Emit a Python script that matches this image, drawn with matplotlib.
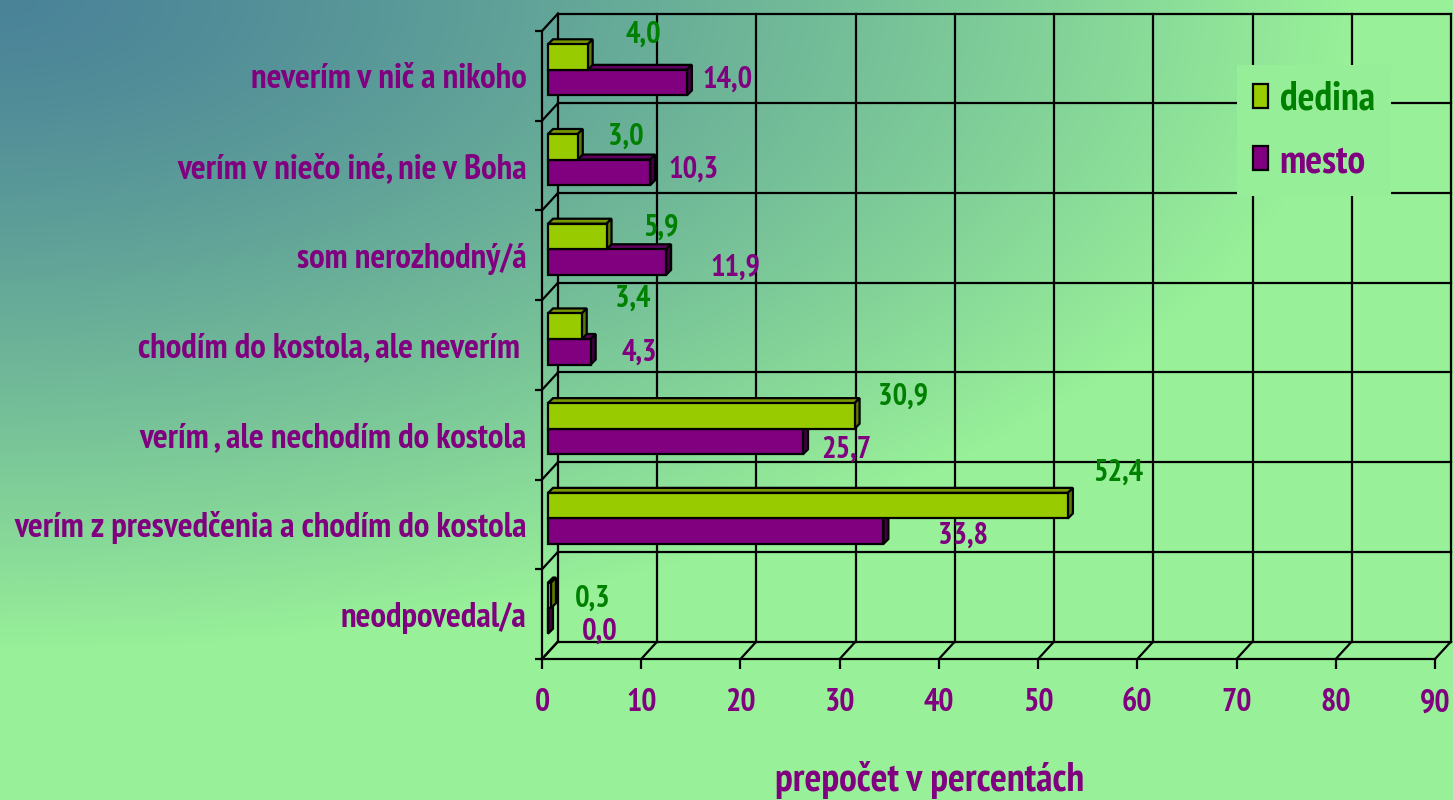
import numpy as np
import matplotlib
matplotlib.use("Agg")
import matplotlib.pyplot as plt
from matplotlib.patches import Polygon, Patch
from matplotlib import font_manager

# ---------------- data ----------------
categories = ["neodpovedal/a",
              "verím z presvedčenia a chodím do kostola",
              "verím , ale nechodím do kostola",
              "chodím do kostola, ale neverím ",
              "som nerozhodný/á",
              "verím v niečo iné, nie v Boha",
              "neverím v nič a nikoho"]
dedina = [0.3, 52.4, 30.9, 3.4, 5.9, 3.0, 4.0]
mesto = [0.0, 33.8, 25.7, 4.3, 11.9, 10.3, 14.0]
series_names = ["dedina", "mesto"]
x_ticks = [0, 10, 20, 30, 40, 50, 60, 70, 80, 90]
x_title = "prepočet v percentách"

# label offsets in pixels (dx from bar end to label left, dy downward)
ded_lab_off = [(24, 3), (25, -33), (23, -19), (33, -28), (37, -9), (30, -10), (38, -22)]
mes_lab_off = [(34, 11), (55, 4), (18, 8), (31, 1), (44, 6), (18, -3), (16, -3)]

# ---------------- styles ----------------
W, H = 1453, 800
ents = font_manager.fontManager.ttflist


def wnum(w):
    if isinstance(w, str):
        return font_manager.weight_dict.get(w, 400)
    return int(w)


FONT_NAME, STRETCH = "DejaVu Sans", "condensed"
for cand in ["Liberation Sans Narrow", "Arial Narrow", "Archivo Narrow", "PT Sans Narrow",
             "Pragati Narrow", "Roboto Condensed", "Fira Sans Condensed", "Open Sans Condensed",
             "IBM Plex Sans Condensed", "Asap Condensed", "Encode Sans Condensed",
             "Barlow Semi Condensed", "Barlow Condensed"]:
    found = [f for f in ents if f.name == cand and wnum(f.weight) >= 600]
    if found:
        FONT_NAME = cand
        STRETCH = found[0].stretch
        break
FONT = [FONT_NAME, "DejaVu Sans"]
plt.rcParams["font.family"] = FONT

PURPLE = "#800080"
GREEN = "#008000"
DED_FACE, DED_TOP, DED_SIDE = "#99CC00", "#7A9900", "#5F7800"
MES_FACE, MES_TOP, MES_SIDE = "#800080", "#600060", "#420042"
LW = 1.6

fig = plt.figure(figsize=(W / 100, H / 100), dpi=100)

# background gradient
c0 = np.array([74, 131, 152]) / 255.0
c1 = np.array([152, 240, 152]) / 255.0


def grad_t(xp, yp):
    r = np.clip(np.sqrt((xp / 1350.0) ** 2 + (yp / 650.0) ** 2), 0, 1)
    return r ** 1.3


bg = fig.add_axes([0, 0, 1, 1], zorder=-10)
yy, xx = np.mgrid[0:H, 0:W]
t = grad_t(xx, yy)
img = c0[None, None, :] * (1 - t[..., None]) + c1[None, None, :] * t[..., None]
bg.imshow(img, aspect="auto", interpolation="bilinear")
bg.axis("off")

# main axes = front plane
fx0, fx1, fy_top, fy_bot = 542, 1435, 31, 659
ax = fig.add_axes([fx0 / W, (H - fy_bot) / H, (fx1 - fx0) / W, (fy_bot - fy_top) / H])
ax.patch.set_visible(False)
ax.set_xlim(0, 90)
ax.set_ylim(-0.5, len(categories) - 0.5)
px_x = 90.0 / (fx1 - fx0)
px_y = len(categories) / float(fy_bot - fy_top)

DX, DY = 16 * px_x, 17.5 * px_y        # wall depth
BX, BY = 6 * px_x, 6 * px_y            # bar front plane offset
BDX, BDY = 5 * px_x, 5 * px_y          # bar depth
h = 0.285                              # bar thickness

ymin, ymax = -0.5, len(categories) - 0.5
kw = dict(color="black", lw=LW, clip_on=False, zorder=1, solid_capstyle="projecting")
for k in range(len(categories) + 1):
    yb = ymin + k
    ax.plot([DX, 90 + DX], [yb + DY, yb + DY], **kw)
    ax.plot([0, DX], [yb, yb + DY], **kw)
for xv in x_ticks:
    ax.plot([xv + DX, xv + DX], [ymin + DY, ymax + DY], **kw)
    ax.plot([xv, xv + DX], [ymin, ymin + DY], **kw)

for s in ["top", "right"]:
    ax.spines[s].set_visible(False)
for s in ["left", "bottom"]:
    ax.spines[s].set_linewidth(LW)
ax.set_xticks(x_ticks)
ax.set_xticklabels([str(v) for v in x_ticks])
ax.set_yticks(range(len(categories)))
ax.set_yticklabels(categories)
ax.set_yticks(np.arange(ymin, ymax + 0.01, 1.0), minor=True)
ax.tick_params(axis="x", direction="out", length=7.2, width=LW, pad=14,
               labelsize=23, labelcolor=PURPLE)
ax.tick_params(axis="y", which="major", length=0, pad=11, labelsize=25, labelcolor=PURPLE)
ax.tick_params(axis="y", which="minor", direction="out", length=5, width=LW)
for lab in ax.get_xticklabels() + ax.get_yticklabels():
    lab.set_fontweight("bold")
    lab.set_fontstretch(STRETCH)


def draw_bar(y0, val, face, top, side, z):
    yb, yt = y0 + BY, y0 + h + BY
    L = BX
    ax.barh(y0 + BY + h / 2, val, height=h, left=L, color=face, edgecolor="black",
            linewidth=LW, zorder=z + 0.2, clip_on=False)
    ax.add_patch(Polygon([(L, yt), (L + val, yt), (L + val + BDX, yt + BDY), (L + BDX, yt + BDY)],
                         closed=True, fc=top, ec="black", lw=LW, zorder=z, clip_on=False))
    ax.add_patch(Polygon([(L + val, yb), (L + val + BDX, yb + BDY), (L + val + BDX, yt + BDY), (L + val, yt)],
                         closed=True, fc=side, ec="black", lw=LW, zorder=z + 0.1, clip_on=False))


def fmt(v):
    return ("%.1f" % v).replace(".", ",")


for i in range(len(categories)):
    draw_bar(i - h, mesto[i], MES_FACE, MES_TOP, MES_SIDE, 3)
    draw_bar(i, dedina[i], DED_FACE, DED_TOP, DED_SIDE, 4)
    dx, dy = ded_lab_off[i]
    ax.text(BX + dedina[i] + dx * px_x, i + BY + h / 2 - dy * px_y, fmt(dedina[i]),
            color=GREEN, fontsize=22, fontweight="bold", fontstretch=STRETCH,
            ha="left", va="center", clip_on=False, zorder=6)
    dx, dy = mes_lab_off[i]
    ax.text(BX + mesto[i] + dx * px_x, i + BY - h / 2 - dy * px_y, fmt(mesto[i]),
            color=PURPLE, fontsize=22, fontweight="bold", fontstretch=STRETCH,
            ha="left", va="center", clip_on=False, zorder=6)

fig.text(930 / W, 1 - 780 / H, x_title, color=PURPLE, fontsize=28.5, fontweight="bold",
         fontstretch=STRETCH, ha="center", va="center")

tl = float(grad_t(1310, 125))
leg_bg = tuple(float(v) for v in (c0 * (1 - tl) + c1 * tl))
handles = [Patch(facecolor=DED_FACE, edgecolor="black", lw=LW, label=series_names[0]),
           Patch(facecolor=MES_FACE, edgecolor="black", lw=LW, label=series_names[1])]
leg = fig.legend(handles=handles, loc="upper left", bbox_to_anchor=(1217 / W, 1 - 45 / H),
                 frameon=True, facecolor=leg_bg, edgecolor="none", framealpha=1,
                 fancybox=False, handlelength=0.38, handleheight=0.56, handletextpad=0.3,
                 labelspacing=0.65, borderpad=0.4,
                 prop=dict(family=FONT, size=28.5, weight="bold", stretch=STRETCH))
leg.get_texts()[0].set_color(GREEN)
leg.get_texts()[1].set_color(PURPLE)
leg.set_zorder(2)

fig.savefig("out.png", dpi=100)
